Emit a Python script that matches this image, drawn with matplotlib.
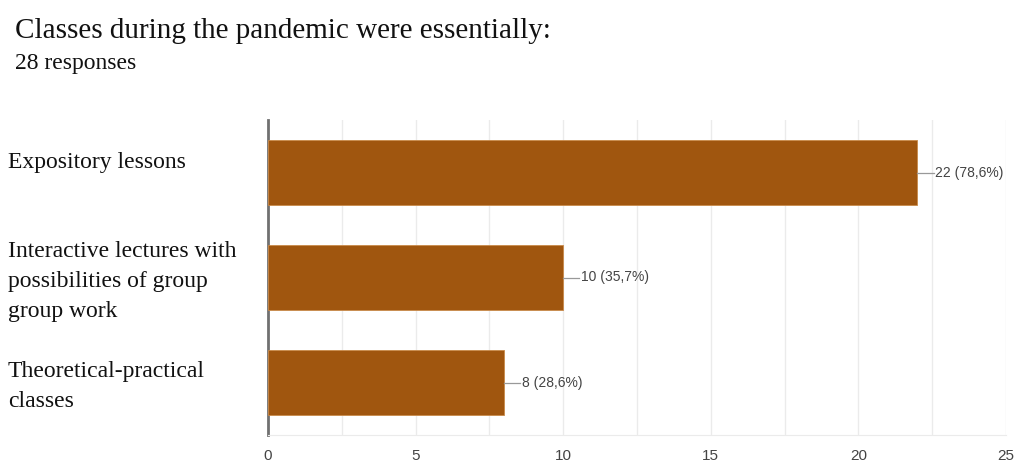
import matplotlib.pyplot as plt

categories = [
    "Expository lessons",
    "Interactive lectures with\npossibilities of group\ngroup work",
    "Theoretical-practical\nclasses",
]
counts = [22, 10, 8]
percents = ["78,6%", "35,7%", "28,6%"]
total = 28
x_ticks = [0, 5, 10, 15, 20, 25]

bar_color = "#a0560f"
text_gray = "#444444"

fig = plt.figure(figsize=(10.28, 4.63), dpi=100)
ax = fig.add_axes([268 / 1028, 1 - 435 / 463, (1006 - 268) / 1028, (435 - 120) / 463])

y = list(range(len(categories)))
ax.barh(y, counts, height=0.62, color=bar_color, edgecolor="#c98a4a", linewidth=0.6, zorder=3)

ax.set_xlim(0, 25)
ax.set_ylim(len(categories) - 0.5, -0.5)

ax.set_xticks(x_ticks)
ax.set_xticks([2.5, 7.5, 12.5, 17.5, 22.5], minor=True)
ax.xaxis.grid(True, which="both", color="#ebebeb", linewidth=1, zorder=0)
ax.tick_params(axis="x", which="both", length=0, pad=10, labelsize=11, labelcolor=text_gray)
ax.set_yticks([])
for lbl in ax.get_xticklabels():
    lbl.set_family("Liberation Sans")

for side in ["top", "right"]:
    ax.spines[side].set_visible(False)
ax.spines["bottom"].set_color("#ebebeb")
ax.spines["left"].set_color("#707070")
ax.spines["left"].set_linewidth(2)

for yi, c, p in zip(y, counts, percents):
    ax.plot([c, c + 0.55], [yi, yi], color="#999999", linewidth=0.9, zorder=4, clip_on=False)
    ax.text(c + 0.6, yi, f"{c} ({p})", va="center", ha="left", fontsize=10,
            color=text_gray, family="Liberation Sans")

label_offsets = [-10, 4, 4]
for yi, cat, off in zip(y, categories, label_offsets):
    disp = ax.transData.transform((0, yi))
    fy = (disp[1] - off) / fig.bbox.height
    fig.text(8 / 1028, fy, cat, ha="left", va="center", fontsize=17,
             family="Liberation Serif", color="#111111", linespacing=1.55)

fig.text(15 / 1028, 1 - 31 / 463, "Classes during the pandemic were essentially:", ha="left",
         va="center", fontsize=21, family="Liberation Serif", color="#111111")
fig.text(15 / 1028, 1 - 64 / 463, f"{total} responses", ha="left", va="center", fontsize=17,
         family="Liberation Serif", color="#111111")

fig.savefig("out.png", dpi=100)
